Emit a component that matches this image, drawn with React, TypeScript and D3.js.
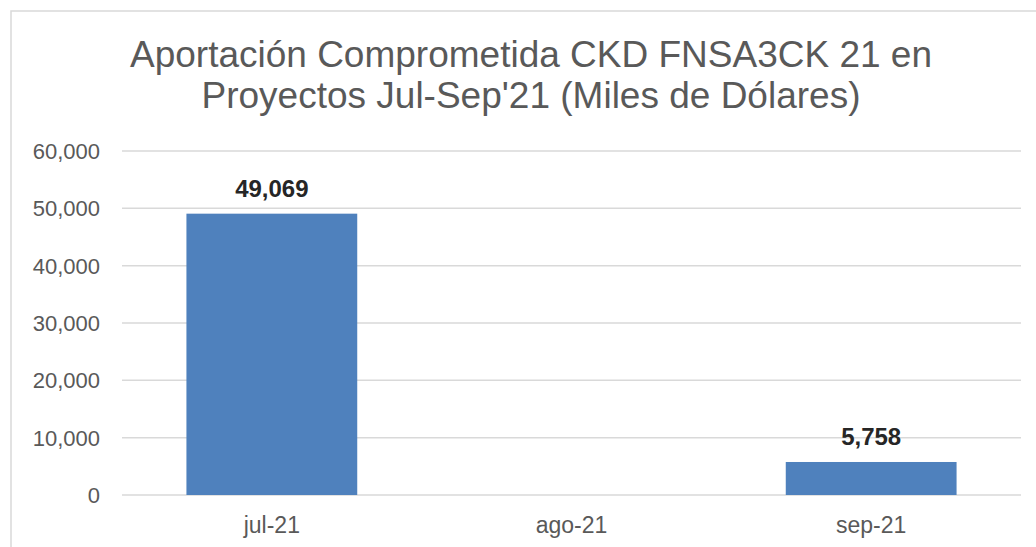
import { useRef, useEffect } from 'react'
import * as d3 from 'd3'

const categories = ['jul-21', 'ago-21', 'sep-21']
const values = [49069, 0, 5758]
const yTicks = [0, 10000, 20000, 30000, 40000, 50000, 60000]
const titleLines = ['Aportación Comprometida CKD FNSA3CK 21 en', "Proyectos Jul-Sep'21 (Miles de Dólares)"]

export default function App() {
  const svgRef = useRef<SVGSVGElement>(null)

  useEffect(() => {
    const w = 1036
    const h = 547
    const svg = d3.select(svgRef.current)
      .attr('width', w)
      .attr('height', h)
    svg.selectAll('*').remove()

    const font = 'Liberation Sans, Arial, sans-serif'
    const textColor = '#595959'

    svg.append('rect').attr('width', w).attr('height', h).attr('fill', '#fff')
    // chart frame, only top and left edges show
    svg.append('rect')
      .attr('x', 11).attr('y', 11)
      .attr('width', 1200).attr('height', 800)
      .attr('fill', 'none')
      .attr('stroke', '#d9d9d9')
      .attr('stroke-width', 1.5)

    // scales
    const x = d3.scaleBand()
      .domain(categories)
      .range([122, 1021])
      .paddingInner(0.43)
      .paddingOuter(0.215)
    const y = d3.scaleLinear()
      .domain([0, 60000])
      .range([495, 151])

    // title
    svg.append('g').selectAll('text')
      .data(titleLines)
      .join('text')
        .attr('x', 531)
        .attr('y', (d, i) => 67 + i * 41)
        .attr('text-anchor', 'middle')
        .attr('font-family', font)
        .attr('font-size', 37)
        .attr('fill', textColor)
        .text(d => d)

    // gridlines
    svg.append('g').selectAll('line')
      .data(yTicks)
      .join('line')
        .attr('x1', 122).attr('x2', 1021)
        .attr('y1', d => y(d)).attr('y2', d => y(d))
        .attr('stroke', '#d9d9d9')
        .attr('stroke-width', 1.5)

    // y labels
    const fmt = d3.format(',')
    svg.append('g').selectAll('text')
      .data(yTicks)
      .join('text')
        .attr('x', 100)
        .attr('y', d => y(d) + 8)
        .attr('text-anchor', 'end')
        .attr('font-family', font)
        .attr('font-size', 22)
        .attr('fill', textColor)
        .text(d => fmt(d))

    // bars
    svg.append('g').selectAll('rect')
      .data(values)
      .join('rect')
        .attr('x', (d, i) => x(categories[i])!)
        .attr('y', d => y(d))
        .attr('width', x.bandwidth())
        .attr('height', d => y(0) - y(d))
        .attr('fill', '#4f81bd')

    // data labels
    svg.append('g').selectAll('text')
      .data(values.map((v, i) => ({ v, c: categories[i] })).filter(d => d.v > 0))
      .join('text')
        .attr('x', d => x(d.c)! + x.bandwidth() / 2)
        .attr('y', d => y(d.v) - 17)
        .attr('text-anchor', 'middle')
        .attr('font-family', font)
        .attr('font-size', 24)
        .attr('font-weight', 'bold')
        .attr('fill', '#262626')
        .text(d => fmt(d.v))

    // x labels
    svg.append('g').selectAll('text')
      .data(categories)
      .join('text')
        .attr('x', d => x(d)! + x.bandwidth() / 2)
        .attr('y', 533)
        .attr('text-anchor', 'middle')
        .attr('font-family', font)
        .attr('font-size', 23)
        .attr('fill', textColor)
        .text(d => d)
  }, [])

  return (
    <div style={{ position: 'absolute', top: 0, left: 0 }}>
      <svg ref={svgRef} style={{ display: 'block' }}></svg>
    </div>
  )
}
